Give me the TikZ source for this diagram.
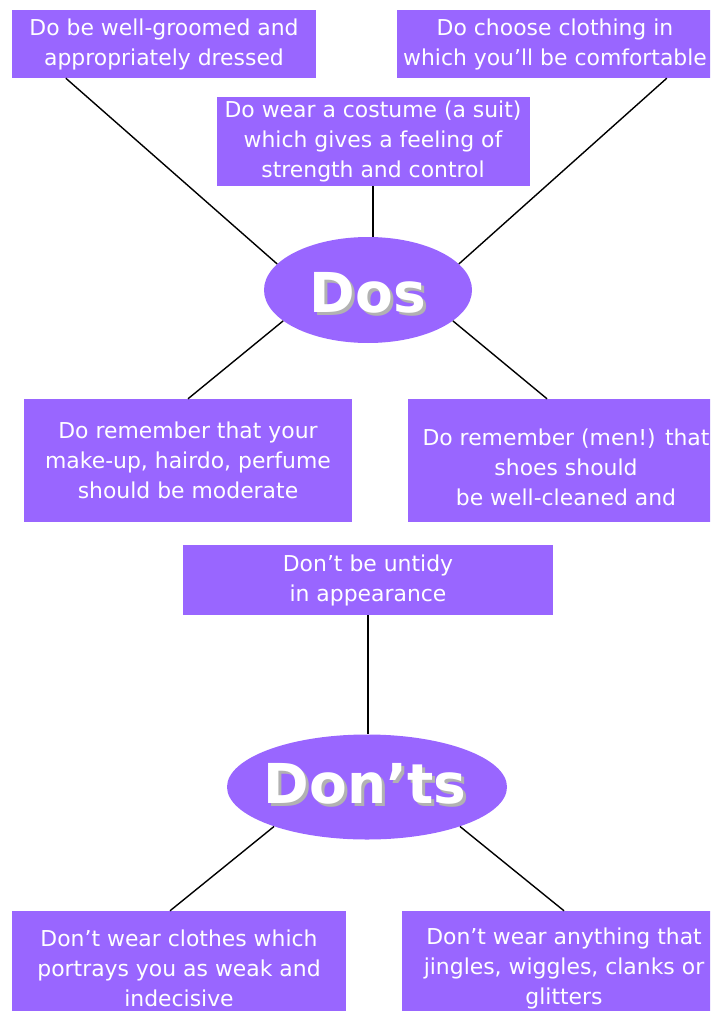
\documentclass[tikz,border=0pt]{standalone}
\usepackage{fontspec}
\setmainfont{DejaVu Sans}
\definecolor{lilac}{RGB}{153,102,255}
\definecolor{shadowgray}{RGB}{178,178,178}
\tikzset{
  box/.style={fill=lilac, text=white, inner sep=0pt, align=center,
    font=\fontsize{21.9}{30}\selectfont},
  bubble/.style={ellipse, fill=lilac, inner sep=0pt},
  bigtxt/.style={text=white, inner sep=0pt, font=\fontsize{55}{60}\bfseries\selectfont},
  shadowtxt/.style={bigtxt, text=shadowgray},
  link/.style={line width=1.4pt}
}
\usetikzlibrary{shapes.geometric}
\begin{document}
\begin{tikzpicture}[x=1pt,y=-1pt]
\useasboundingbox (0,0) rectangle (710,1011);
\clip (0,0) rectangle (710,1011);
\node[box, minimum width=304, minimum height=68] (groomed) at (164,44)
  {Do be well-groomed and\\appropriately dressed};
\node[box, minimum width=316, minimum height=68] (comfort) at (555,44)
  {Do choose clothing in\\which you’ll be comfortable};
\node[box, minimum width=313, minimum height=89] (costume) at (373,141.5)
  {Do wear a costume (a suit)\\which gives a feeling of\\strength and control};
\node[bubble, minimum width=208, minimum height=106] (dos) at (368,290) {};
\node[shadowtxt] (dosshade) at (371,296) {Dos};
\node[bigtxt] (doslabel) at (368,293) {Dos};
\node[box, minimum width=328, minimum height=123] (makeup) at (188,460.5)
  {Do remember that your\\make-up, hairdo, perfume\\should be moderate};
\node[box, minimum width=316, minimum height=123] (shoes) at (566,460.5)
  {\rule{0pt}{30pt}Do remember (men!) that\\shoes should\\be well-cleaned and};
\node[box, minimum width=370, minimum height=70] (untidy) at (368,580)
  {Don’t be untidy\\in appearance};
\node[bubble, minimum width=280, minimum height=105] (donts) at (367,787) {};
\node[shadowtxt] (dontsshade) at (368,787) {Don’ts};
\node[bigtxt] (dontslabel) at (365,784) {Don’ts};
\node[box, minimum width=334, minimum height=114] (weak) at (179,968)
  {Don’t wear clothes which\\portrays you as weak and\\indecisive};
\node[box, minimum width=324, minimum height=114] (jingles) at (564,968)
  {Don’t wear anything that\\jingles, wiggles, clanks or\\glitters};
\draw[link] ([xshift=54]groomed.south west) -- (dos.164);
\draw[link] ([xshift=270]comfort.south west) -- (dos.16);
\draw[link] (costume.south) -- (costume.south |- dos.north);
\draw[link] (dos.200) -- (makeup.north);
\draw[link] (dos.-20) -- ([xshift=-19]shoes.north);
\draw[link] (untidy.south) -- (untidy.south |- donts.north);
\draw[link] (donts.203) -- ([xshift=-9]weak.north);
\draw[link] (donts.-23) -- (jingles.north);
\end{tikzpicture}
\end{document}
